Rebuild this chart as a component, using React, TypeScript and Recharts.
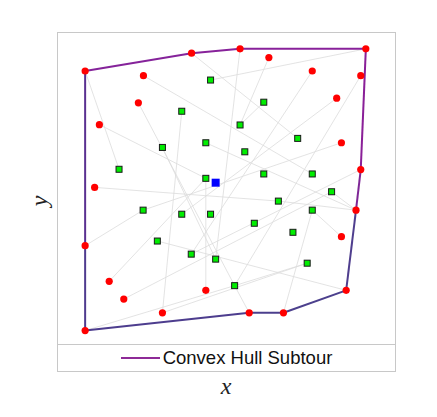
import React from 'react';
import { ScatterChart, Scatter, XAxis, YAxis } from 'recharts';

type Pt = { x: number; y: number };

// customers drawn in red (outer ring) - r1..r25
const redPoints: Pt[] = [
  { x: 8.3, y: 87.5 },
  { x: 39.7, y: 93.2 },
  { x: 54.0, y: 94.6 },
  { x: 91.1, y: 94.6 },
  { x: 25.5, y: 86.0 },
  { x: 24.0, y: 77.3 },
  { x: 12.5, y: 70.3 },
  { x: 11.1, y: 50.2 },
  { x: 62.5, y: 91.8 },
  { x: 75.3, y: 87.5 },
  { x: 89.6, y: 86.0 },
  { x: 82.5, y: 78.8 },
  { x: 83.9, y: 64.5 },
  { x: 89.6, y: 55.9 },
  { x: 88.2, y: 42.9 },
  { x: 83.9, y: 34.4 },
  { x: 85.3, y: 17.2 },
  { x: 66.8, y: 10.0 },
  { x: 56.7, y: 10.0 },
  { x: 43.9, y: 17.2 },
  { x: 31.1, y: 10.0 },
  { x: 19.7, y: 14.4 },
  { x: 15.4, y: 20.1 },
  { x: 8.3, y: 31.5 },
  { x: 8.3, y: 4.3 },
];

// inner customers (green squares) - g1..g25
const greenPoints: Pt[] = [
  { x: 45.3, y: 84.6 },
  { x: 36.8, y: 74.6 },
  { x: 54.0, y: 70.2 },
  { x: 31.1, y: 63.0 },
  { x: 43.9, y: 64.5 },
  { x: 55.4, y: 61.6 },
  { x: 18.3, y: 56.0 },
  { x: 43.9, y: 53.1 },
  { x: 61.0, y: 77.5 },
  { x: 71.0, y: 65.9 },
  { x: 61.0, y: 54.5 },
  { x: 75.3, y: 54.5 },
  { x: 81.0, y: 48.8 },
  { x: 25.4, y: 42.9 },
  { x: 36.8, y: 41.6 },
  { x: 45.3, y: 41.6 },
  { x: 29.6, y: 33.0 },
  { x: 39.6, y: 28.8 },
  { x: 46.8, y: 27.2 },
  { x: 52.4, y: 18.7 },
  { x: 65.3, y: 45.8 },
  { x: 75.3, y: 42.9 },
  { x: 58.2, y: 38.7 },
  { x: 69.6, y: 35.8 },
  { x: 73.8, y: 25.9 },
];

const depot: Pt[] = [{ x: 46.8, y: 51.7 }];

const hullOrder = ['r25', 'r24', 'r1', 'r2', 'r3', 'r4', 'r14', 'r15', 'r17', 'r18', 'r19', 'r25'];

// faint candidate edges
const edges: [string, string][] = [
  ['r1', 'g7'], ['r7', 'g8'], ['r8', 'g21'], ['r24', 'g14'], ['r23', 'g8'],
  ['r22', 'g13'], ['r25', 'g20'], ['r21', 'g2'], ['r20', 'g8'], ['r2', 'g10'],
  ['r3', 'g19'], ['r9', 'g3'], ['r5', 'g12'], ['r6', 'g20'], ['g4', 'g19'],
  ['g1', 'r4'], ['r11', 'g20'], ['r10', 'g18'], ['r12', 'g15'], ['r13', 'g14'],
  ['r14', 'g18'], ['g22', 'r16'], ['g22', 'r18'], ['g17', 'r17'], ['g25', 'g20'],
  ['r19', 'g20'], ['g5', 'r15'], ['g13', 'r15'], ['g21', 'r15'], ['g9', 'g3'],
  ['r21', 'g25'],
];

const hullColors = [
  '#4f3b8e', '#5a3090', '#85239a', '#87229a', '#88219a', '#8a1f98',
  '#7e2696', '#4f3e8e', '#4c408d', '#4b3f8d', '#4d3d8e',
];

const pt = (id: string): Pt =>
  id[0] === 'r' ? redPoints[Number(id.slice(1)) - 1] : greenPoints[Number(id.slice(1)) - 1];

const noShape = () => <g />;

const RedDot = (p: any) => <circle cx={p.cx} cy={p.cy} r={3.6} fill="#ff0000" />;
const GreenSquare = (p: any) => (
  <rect x={p.cx - 3} y={p.cy - 3} width={6} height={6} fill="#00ee00" stroke="#1a1a1a" strokeWidth={1} />
);
const BlueSquare = (p: any) => <rect x={p.cx - 4} y={p.cy - 4} width={8} height={8} fill="#0000ff" />;

const App = () => {
  const hullSegments = hullOrder.slice(1).map((id, i) => [pt(hullOrder[i]), pt(id)]);

  return (
    <div style={{ position: 'relative', width: 429, height: 409, fontFamily: '"Liberation Sans", Arial, sans-serif' }}>
      <ScatterChart width={429} height={409} margin={{ top: 24, right: 41, bottom: 73, left: 49 }}>
        <XAxis type="number" dataKey="x" domain={[0, 100]} hide allowDataOverflow />
        <YAxis type="number" dataKey="y" domain={[0, 100]} hide allowDataOverflow />
        {edges.map(([a, b], i) => (
          <Scatter
            key={'e' + i}
            data={[pt(a), pt(b)]}
            line={{ stroke: '#dcdcdc', strokeWidth: 0.8 }}
            shape={noShape}
            isAnimationActive={false}
          />
        ))}
        {hullSegments.map((seg, i) => (
          <Scatter
            key={'h' + i}
            data={seg}
            line={{ stroke: hullColors[i], strokeWidth: 2 }}
            shape={noShape}
            isAnimationActive={false}
          />
        ))}
        <Scatter data={redPoints} shape={RedDot} isAnimationActive={false} />
        <Scatter data={greenPoints} shape={GreenSquare} isAnimationActive={false} />
        <Scatter data={depot} shape={BlueSquare} isAnimationActive={false} />
      </ScatterChart>

      {/* frame around plot + legend */}
      <div style={{ position: 'absolute', left: 49, top: 24, width: 339, height: 340, border: '1px solid #c8c8c8', boxSizing: 'border-box', pointerEvents: 'none' }} />
      <div style={{ position: 'absolute', left: 49, top: 336, width: 339, height: 1, background: '#c8c8c8' }} />
      <div style={{ position: 'absolute', left: 49, top: 337, width: 339, height: 26, display: 'flex', alignItems: 'center', justifyContent: 'center' }}>
        <div style={{ width: 39, height: 2, background: '#8e2a97', marginRight: 3 }} />
        <span style={{ fontSize: 18.5, color: '#111' }}>Convex Hull Subtour</span>
      </div>

      <div style={{ position: 'absolute', left: 208, top: 366, width: 20, textAlign: 'center', fontFamily: '"Liberation Serif", serif', fontStyle: 'italic', fontSize: 24, color: '#222', lineHeight: '24px' }}>
        x
      </div>
      <div style={{ position: 'absolute', left: 21, top: 181, width: 20, height: 24, textAlign: 'center', fontFamily: '"Liberation Serif", serif', fontStyle: 'italic', fontSize: 24, color: '#222', lineHeight: '24px', transform: 'rotate(-90deg)' }}>
        y
      </div>
    </div>
  );
};

export default App;
